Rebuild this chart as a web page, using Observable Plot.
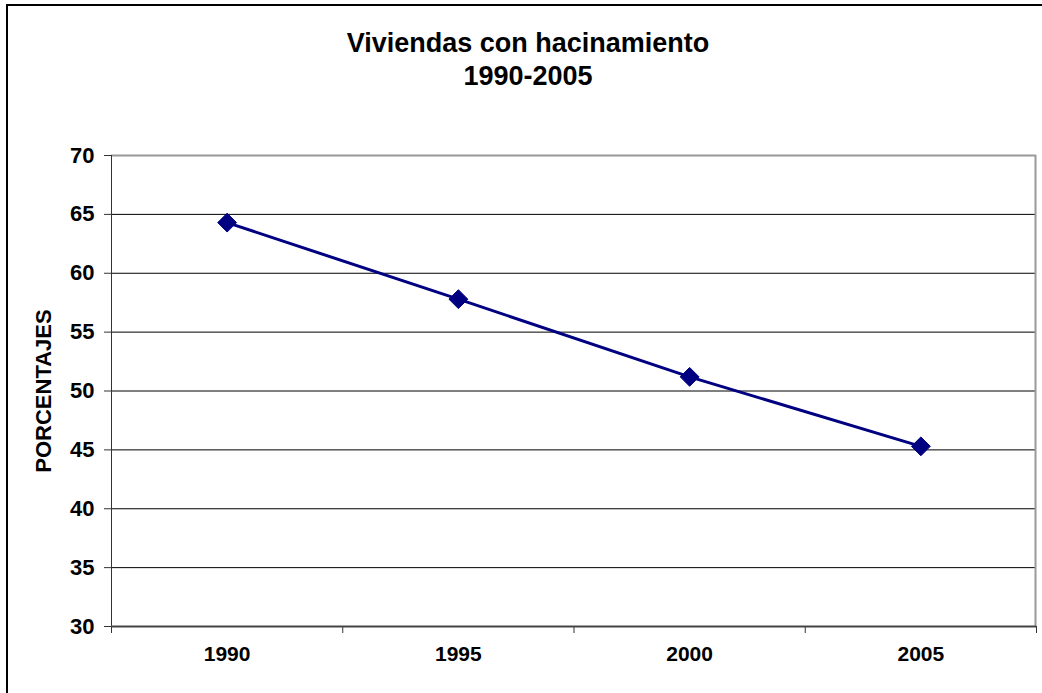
<!DOCTYPE html>
<html>
<head>
<meta charset="utf-8">
<script src="https://cdn.jsdelivr.net/npm/d3@7"></script>
<script src="https://cdn.jsdelivr.net/npm/@observablehq/plot@0.6"></script>
<style>
  html, body { margin: 0; padding: 0; background: #fff; }
  body { font-family: "Liberation Sans", Arial, sans-serif; }
  #wrap { position: relative; width: 1042px; height: 693px; overflow: hidden; }
  #frame { position: absolute; left: 6px; top: 4px; width: 1100px; height: 800px;
           border-left: 2px solid #000; border-top: 2px solid #000; pointer-events: none; }
  #title { height: 110px; box-sizing: border-box; padding-top: 27px; padding-left: 14px; text-align: center;
           font-weight: bold; font-size: 27px; line-height: 33px; color: #000; }
  #chart svg { display: block; }
</style>
</head>
<body>
<div id="wrap">
  <div id="title">Viviendas con hacinamiento<br>1990-2005</div>
  <div id="chart"></div>
  <div id="frame"></div>
</div>
<script>
const years = [1990, 1995, 2000, 2005];
const values = [64.3, 57.8, 51.2, 45.3];
const yTicks = [30, 35, 40, 45, 50, 55, 60, 65, 70];
const yLabel = "PORCENTAJES";

const data = years.map((y, i) => ({year: y, value: values[i]}));
const step = years[1] - years[0];
const xDomain = [years[0] - step / 2, years[years.length - 1] + step / 2];
const boundaries = d3.range(xDomain[0], xDomain[1] + step / 2, step);
const yMin = d3.min(yTicks), yMax = d3.max(yTicks);
const innerGrid = yTicks.filter(t => t > yMin && t < yMax);

const navy = "#000080";

const plot = Plot.plot({
  width: 1042,
  height: 583,
  marginTop: 45,
  marginBottom: 67,
  marginLeft: 111,
  marginRight: 6,
  style: {fontFamily: "'Liberation Sans', Arial, sans-serif", fontSize: "21px", fontWeight: "bold", color: "#000", background: "#fff"},
  x: {type: "linear", domain: xDomain},
  y: {domain: [yMin, yMax]},
  marks: [
    Plot.ruleY(innerGrid, {stroke: "#000", strokeWidth: 1}),
    Plot.ruleY([yMax], {stroke: "#999", strokeWidth: 2}),
    Plot.ruleX([xDomain[1]], {stroke: "#999", strokeWidth: 2, dx: -1}),
    Plot.axisY({ticks: yTicks, tickSize: 7, tickPadding: 10, tickFormat: d => String(d),
                label: yLabel, labelAnchor: "center", labelArrow: "none", labelOffset: 76,
                stroke: "#333", fontSize: 22}),
    Plot.axisX({ticks: years, tickSize: 0, tickPadding: 20, tickFormat: d => String(d), label: null, fontSize: 21}),
    Plot.axisX({ticks: boundaries, tickSize: 7, tickFormat: () => "", label: null, stroke: "#333"}),
    Plot.ruleX([xDomain[0]], {stroke: "#333", strokeWidth: 1}),
    Plot.ruleY([yMin], {stroke: "#444", strokeWidth: 2}),
    Plot.line(data, {x: "year", y: "value", stroke: navy, strokeWidth: 3}),
    Plot.dot(data, {x: "year", y: "value", symbol: "diamond2", r: 8.5, fill: navy, stroke: navy, strokeWidth: 1})
  ]
});
document.getElementById("chart").appendChild(plot);
</script>
</body>
</html>
